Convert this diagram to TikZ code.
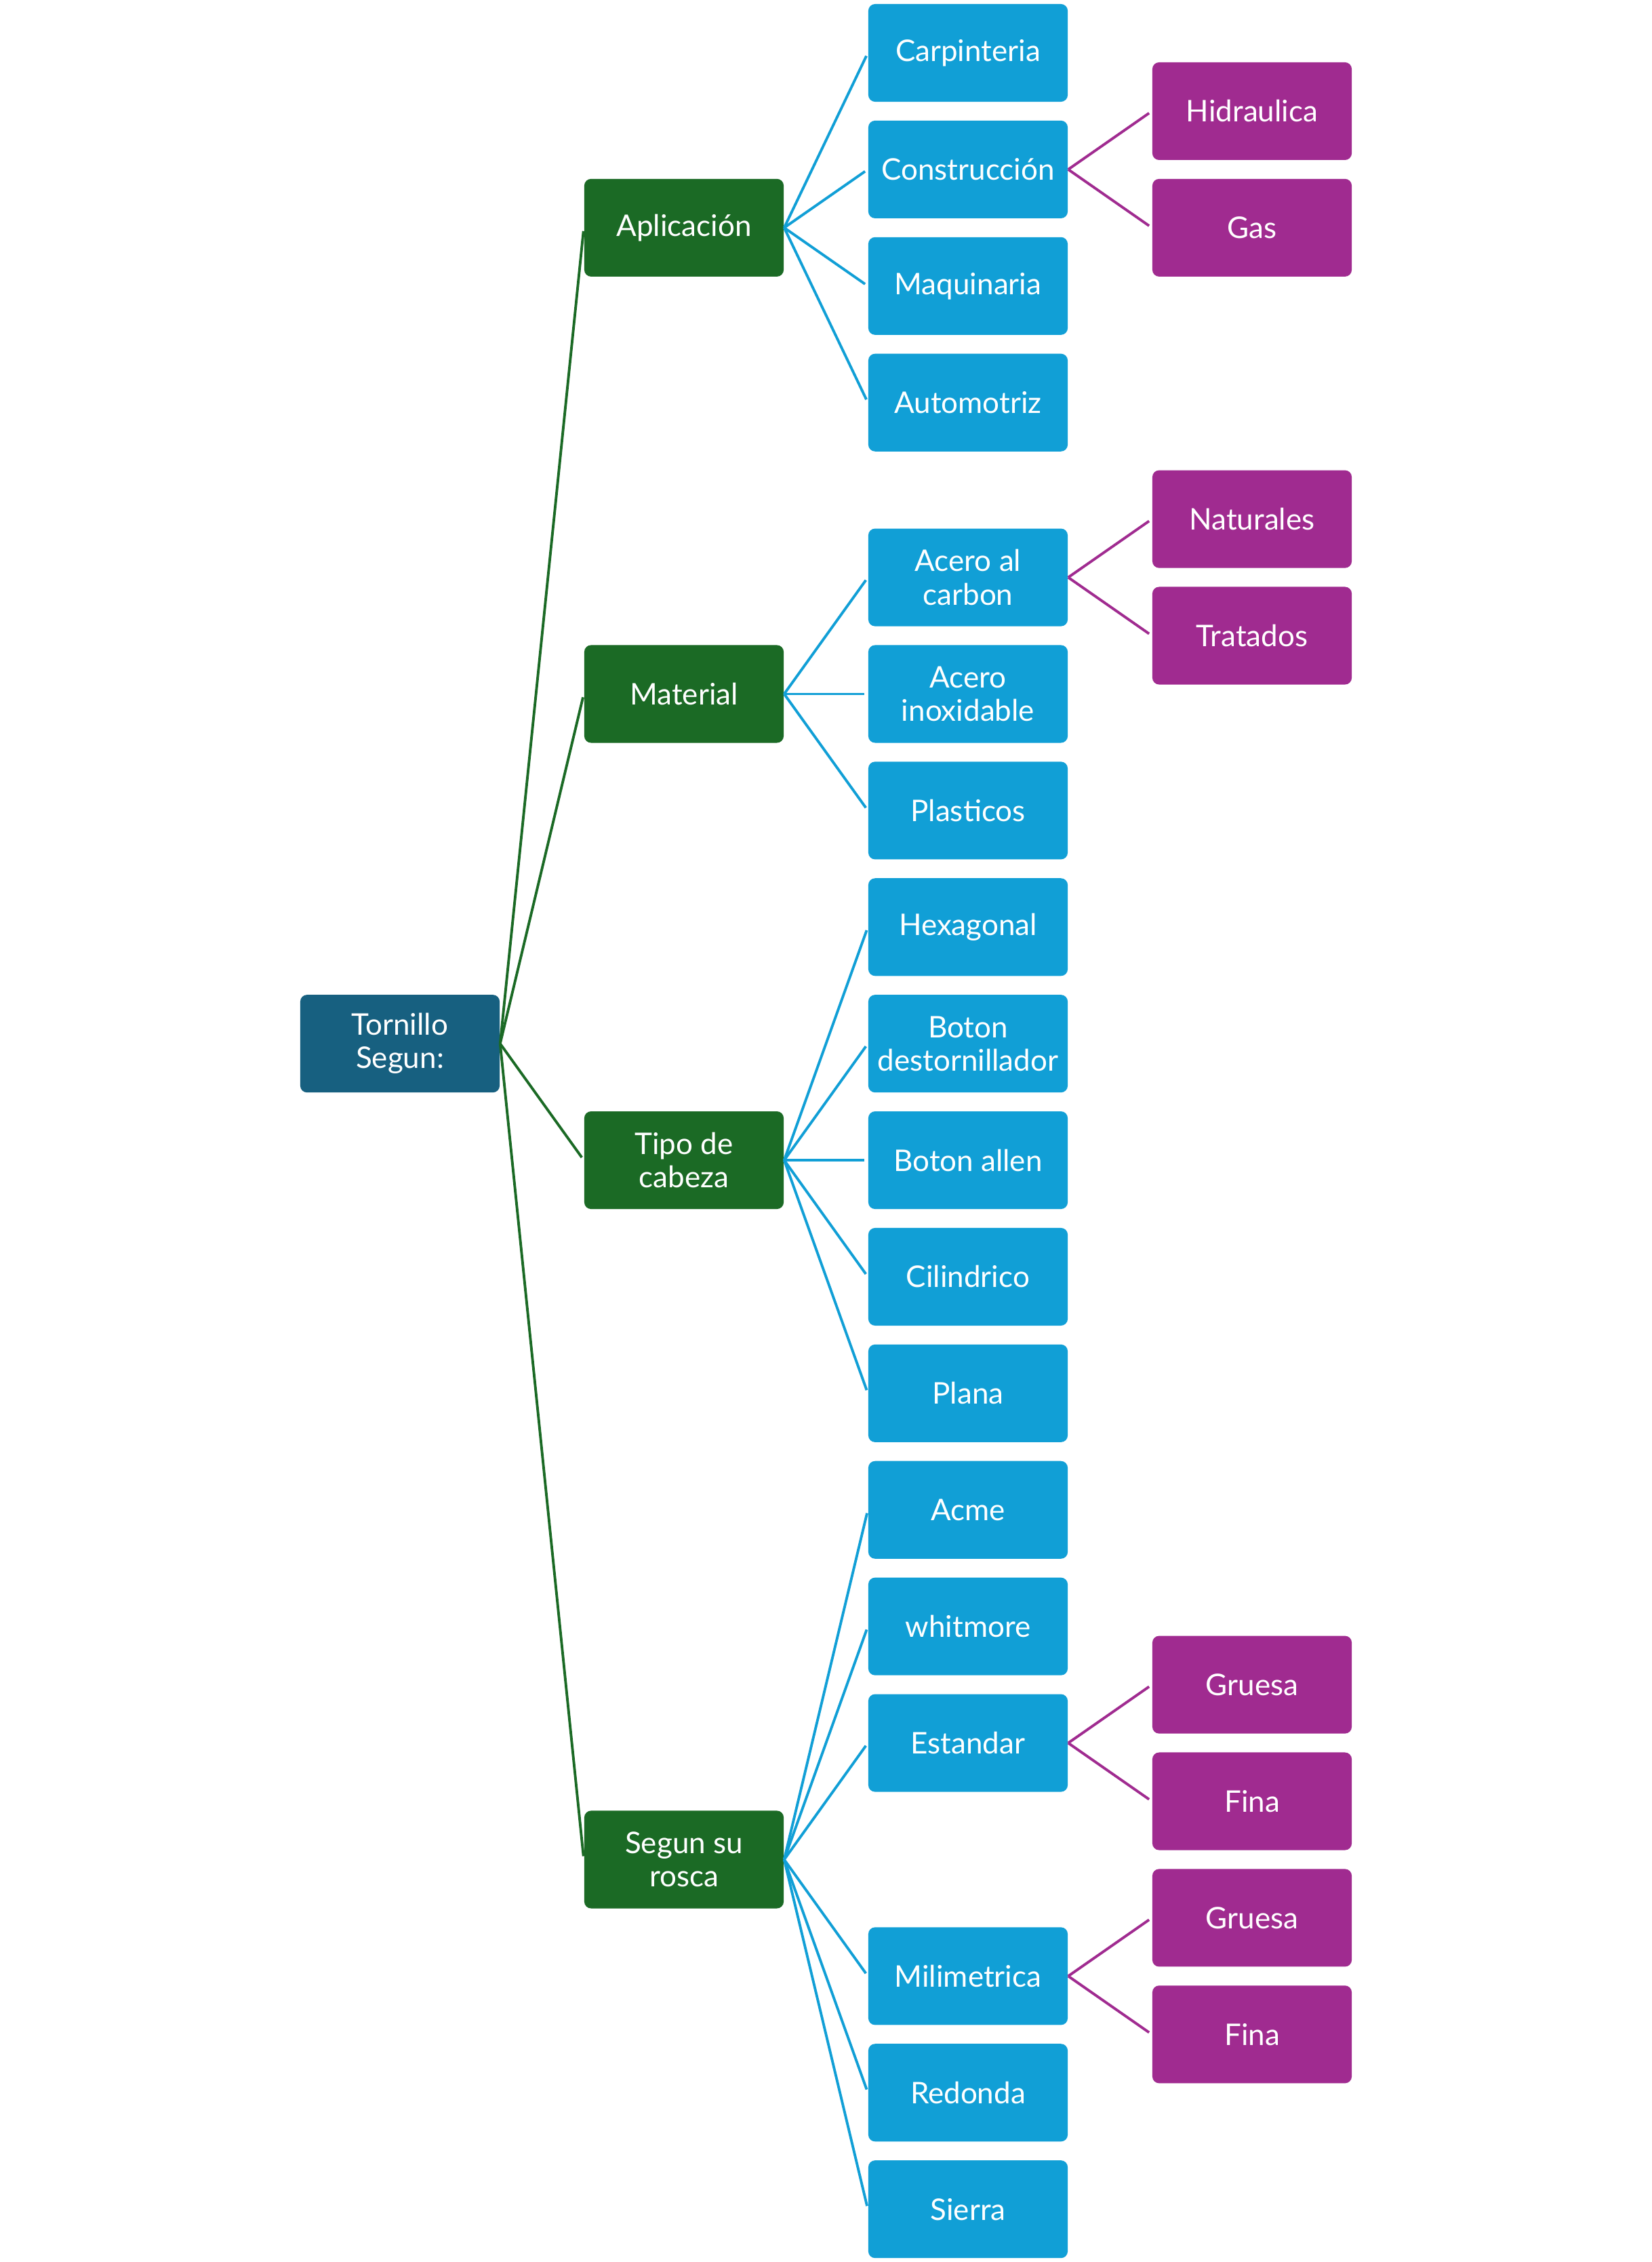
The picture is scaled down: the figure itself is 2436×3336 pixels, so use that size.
\documentclass[tikz,border=0pt]{standalone}
\usepackage{fontspec}
\setmainfont{Lato}
\definecolor{rootc}{RGB}{23,96,128}
\definecolor{greenc}{RGB}{27,106,37}
\definecolor{bluec}{RGB}{17,159,214}
\definecolor{purplec}{RGB}{160,43,144}
\begin{document}
\begin{tikzpicture}[x=0.01cm,y=-0.01cm,
  box/.style={rounded corners=0.1cm, minimum width=2.94cm, minimum height=1.44cm,
    inner sep=0pt, text=white, align=center, font=\fontsize{12.5}{14}\selectfont},
  rootbox/.style={box, fill=rootc},
  grbox/.style={box, fill=greenc},
  blbox/.style={box, fill=bluec},
  pubox/.style={box, fill=purplec},
  gline/.style={draw=greenc, line width=1.1pt, shorten >=0.05cm},
  bline/.style={draw=bluec, line width=1.1pt, shorten >=0.05cm},
  pline/.style={draw=purplec, line width=1.1pt, shorten >=0.05cm}]
\useasboundingbox (0,0) rectangle (2436,3336);
\def\ry#1{{78+171.9*#1}}
% root
\node[rootbox] (root) at (590,\ry{8.5}) {Tornillo\\Segun:};
% level 1
\node[grbox] (apl) at (1009,\ry{1.5}) {Aplicación};
\node[grbox] (mat) at (1009,\ry{5.5}) {Material};
\node[grbox] (tip) at (1009,\ry{9.5}) {Tipo de\\cabeza};
\node[grbox] (ros) at (1009,\ry{15.5}) {Segun su\\rosca};
% level 2
\node[blbox] (car) at (1428,\ry{0}) {Carpinteria};
\node[blbox] (con) at (1428,\ry{1}) {Construcción};
\node[blbox] (maq) at (1428,\ry{2}) {Maquinaria};
\node[blbox] (aut) at (1428,\ry{3}) {Automotriz};
\node[blbox] (acc) at (1428,\ry{4.5}) {Acero al\\carbon};
\node[blbox] (aci) at (1428,\ry{5.5}) {Acero\\inoxidable};
\node[blbox] (pla) at (1428,\ry{6.5}) {Plasticos};
\node[blbox] (hex) at (1428,\ry{7.5}) {Hexagonal};
\node[blbox] (bod) at (1428,\ry{8.5}) {Boton\\destornillador};
\node[blbox] (boa) at (1428,\ry{9.5}) {Boton allen};
\node[blbox] (cil) at (1428,\ry{10.5}) {Cilindrico};
\node[blbox] (pln) at (1428,\ry{11.5}) {Plana};
\node[blbox] (acm) at (1428,\ry{12.5}) {Acme};
\node[blbox] (whi) at (1428,\ry{13.5}) {whitmore};
\node[blbox] (est) at (1428,\ry{14.5}) {Estandar};
\node[blbox] (mil) at (1428,\ry{16.5}) {Milimetrica};
\node[blbox] (red) at (1428,\ry{17.5}) {Redonda};
\node[blbox] (sie) at (1428,\ry{18.5}) {Sierra};
% level 3
\node[pubox] (hid) at (1847,\ry{0.5}) {Hidraulica};
\node[pubox] (gas) at (1847,\ry{1.5}) {Gas};
\node[pubox] (nat) at (1847,\ry{4}) {Naturales};
\node[pubox] (tra) at (1847,\ry{5}) {Tratados};
\node[pubox] (gr1) at (1847,\ry{14}) {Gruesa};
\node[pubox] (fi1) at (1847,\ry{15}) {Fina};
\node[pubox] (gr2) at (1847,\ry{16}) {Gruesa};
\node[pubox] (fi2) at (1847,\ry{17}) {Fina};
% connectors
\foreach \c in {apl,mat,tip,ros} \draw[gline] (root.east) -- (\c.west);
\foreach \c in {car,con,maq,aut} \draw[bline] (apl.east) -- (\c.west);
\foreach \c in {acc,aci,pla} \draw[bline] (mat.east) -- (\c.west);
\foreach \c in {hex,bod,boa,cil,pln} \draw[bline] (tip.east) -- (\c.west);
\foreach \c in {acm,whi,est,mil,red,sie} \draw[bline] (ros.east) -- (\c.west);
\foreach \c in {hid,gas} \draw[pline] (con.east) -- (\c.west);
\foreach \c in {nat,tra} \draw[pline] (acc.east) -- (\c.west);
\foreach \c in {gr1,fi1} \draw[pline] (est.east) -- (\c.west);
\foreach \c in {gr2,fi2} \draw[pline] (mil.east) -- (\c.west);
\end{tikzpicture}
\end{document}
